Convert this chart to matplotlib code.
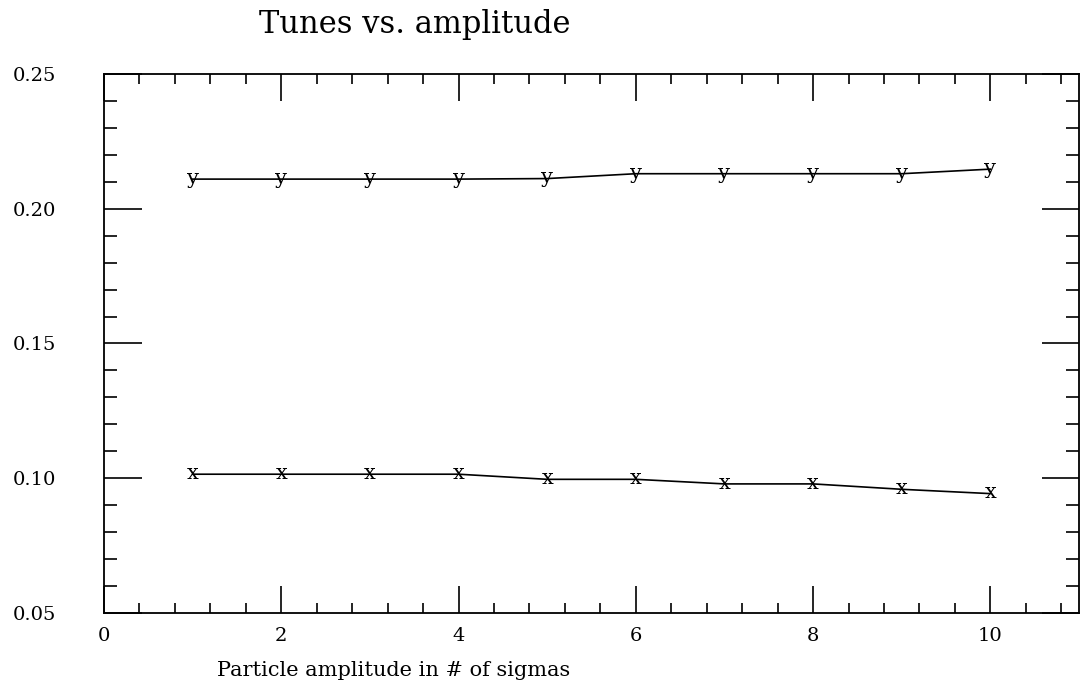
import matplotlib

matplotlib.use("Agg")
import matplotlib.pyplot as plt
from matplotlib.ticker import MultipleLocator

# amplitudes (# of sigmas) and tunes
amp = [1, 2, 3, 4, 5, 6, 7, 8, 9, 10]
tune_x = [0.1015, 0.1015, 0.1015, 0.1015, 0.0996, 0.0996, 0.0979, 0.0979, 0.0959, 0.0943]
tune_y = [0.2110, 0.2110, 0.2110, 0.2110, 0.2112, 0.2130, 0.2130, 0.2130, 0.2130, 0.2147]

plt.rcParams["font.family"] = ["DejaVu Serif"]

fig = plt.figure(figsize=(10.8, 6.81), dpi=100)
ax = fig.add_axes([104 / 1080, 1 - 613 / 681, 975 / 1080, 539 / 681])

for tunes, mark in [(tune_x, "x"), (tune_y, "y")]:
    ax.plot(amp, tunes, color="black", lw=1.2)
    for a, t in zip(amp, tunes):
        ax.annotate(mark, (a, t), xytext=(0, -3.5), textcoords="offset points",
                    ha="center", va="baseline", fontsize=15)

ax.set_xlim(0, 11)
ax.set_ylim(0.05, 0.25)
ax.xaxis.set_major_locator(MultipleLocator(2))
ax.xaxis.set_minor_locator(MultipleLocator(0.4))
ax.yaxis.set_major_locator(MultipleLocator(0.05))
ax.yaxis.set_minor_locator(MultipleLocator(0.01))
ax.yaxis.set_major_formatter(lambda v, p: f"{v:.2f}")

ax.tick_params(axis="both", which="both", direction="in", top=True, right=True,
               width=1.2, color="black", labelsize=14)
ax.tick_params(axis="x", which="major", length=19.5, pad=10)
ax.tick_params(axis="x", which="minor", length=7)
ax.tick_params(axis="y", which="major", length=27)
ax.tick_params(axis="y", which="minor", length=9.5)
for lab in ax.get_yticklabels():
    lab.set_horizontalalignment("left")
ax.yaxis.set_tick_params(pad=66)

for s in ax.spines.values():
    s.set_linewidth(1.3)

fig.text(394 / 1080, 1 - 676 / 681, "Particle amplitude in # of sigmas",
         ha="center", va="baseline", fontsize=15)
fig.text(415 / 1080, 1 - 33 / 681, "Tunes vs. amplitude",
         ha="center", va="baseline", fontsize=22)

fig.savefig("out.png", dpi=100)
